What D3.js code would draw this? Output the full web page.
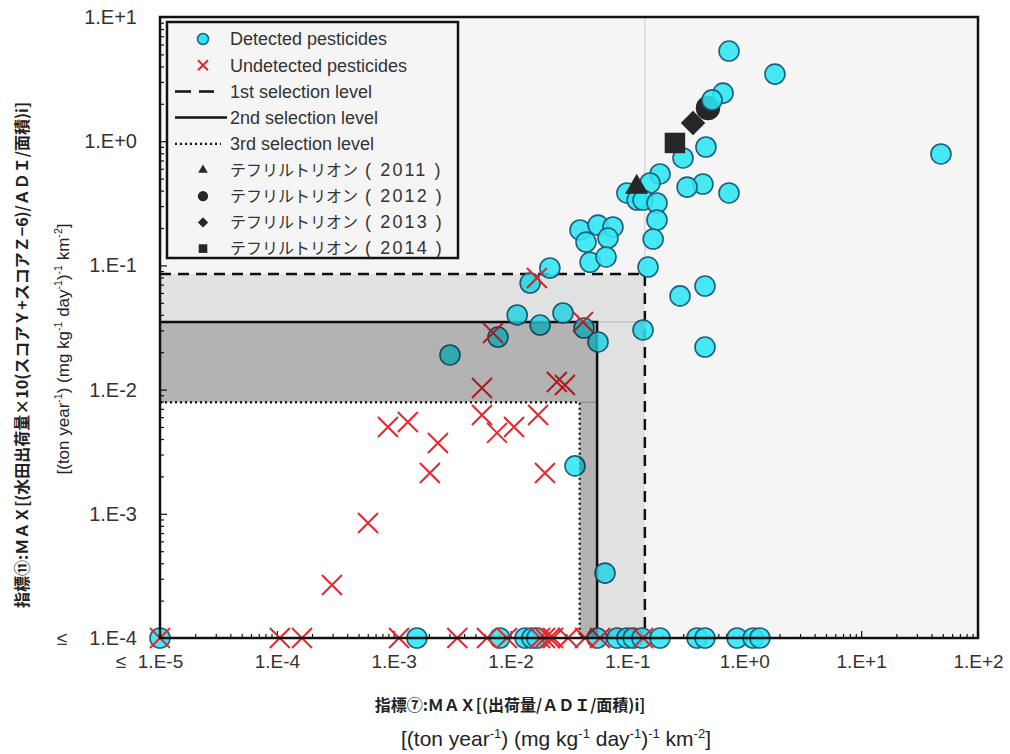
<!DOCTYPE html>
<html>
<head>
<meta charset="utf-8">
<script src="https://cdn.jsdelivr.net/npm/d3@7/dist/d3.min.js"></script>
<style>
  body { margin: 0; background: #fff; }
  text { font-family: "Liberation Sans", Arial, "Noto Sans CJK JP", sans-serif; }
</style>
</head>
<body>
<div id="chart"></div>
<script>
// ---- data ----
// detected pesticides (cyan circles), indicator 7 (x) vs indicator 11 (y)
const detectedX = [0.740, 1.83, 0.658, 0.530, 0.47, 0.299, 0.190, 0.156, 0.443, 0.324, 0.740, 0.099, 0.121, 0.136,
    0.179, 0.179, 0.166, 0.150, 0.0393, 0.0442, 0.056, 0.0752, 0.0682, 0.0479, 0.0656, 0.0217, 0.0147, 0.0114,
    0.0179, 0.0281, 0.0425, 0.056, 0.0078, 0.136, 0.282, 0.461, 0.461, 0.00303, 0.0356, 0.0643, 48.2,
    // points sitting on the lower limit (<= 1.E-4)
    1e-5, 0.00158, 0.0081, 0.0133, 0.0152, 0.0168, 0.055, 0.0815, 0.099, 0.112, 0.133, 0.190, 0.394, 0.461, 0.867, 1.19, 1.36];
const detectedY = [5.32, 3.47, 2.44, 2.15, 0.898, 0.733, 0.545, 0.461, 0.452, 0.427, 0.383, 0.383, 0.336, 0.336,
    0.318, 0.232, 0.163, 0.097, 0.193, 0.154, 0.211, 0.204, 0.166, 0.106, 0.117, 0.0953, 0.0721, 0.0399,
    0.0331, 0.0414, 0.0313, 0.0242, 0.0265, 0.0302, 0.0568, 0.0682, 0.0220, 0.0190, 0.00243, 0.000333, 0.789,
    1e-4, 1e-4, 1e-4, 1e-4, 1e-4, 1e-4, 1e-4, 1e-4, 1e-4, 1e-4, 1e-4, 1e-4, 1e-4, 1e-4, 1e-4, 1e-4, 1e-4];

// undetected pesticides (red crosses)
const undetectedX = [0.0168, 0.00708, 0.0417, 0.00569, 0.0249, 0.0292, 0.000893, 0.00132, 0.00239, 0.00569,
    0.00766, 0.0107, 0.0172, 0.00204, 0.0197, 0.000603, 0.000296,
    1e-5, 0.000106, 0.000164, 0.00111, 0.0035, 0.00628, 0.0093, 0.0179, 0.0197, 0.0217, 0.0231, 0.031, 0.0434, 0.0582, 0.136];
const undetectedY = [0.0792, 0.0286, 0.035, 0.0103, 0.0115, 0.0109, 0.0050, 0.00548, 0.00372, 0.00624,
    0.00448, 0.0050, 0.00624, 0.00213, 0.00213, 0.000843, 0.000267,
    1e-4, 1e-4, 1e-4, 1e-4, 1e-4, 1e-4, 1e-4, 1e-4, 1e-4, 1e-4, 1e-4, 1e-4, 1e-4, 1e-4, 1e-4];

// tefuryltrione by year
const teflYears = ["2011", "2012", "2013", "2014"];
const teflX = [0.12, 0.489, 0.364, 0.255];
const teflY = [0.427, 1.85, 1.40, 0.968];
const teflShapes = ["triangle", "circle", "diamond", "square"];

// selection levels (upper corner of each box)
const levelNames = ["1st selection level", "2nd selection level", "3rd selection level"];
const levelX = [0.141, 0.055, 0.039];
const levelY = [0.0853, 0.035, 0.0079];

// axis ticks
const xTickVals = [1e-5, 1e-4, 1e-3, 1e-2, 1e-1, 1e0, 1e1, 1e2];
const xTickLabels = ["1.E-5", "1.E-4", "1.E-3", "1.E-2", "1.E-1", "1.E+0", "1.E+1", "1.E+2"];
const yTickVals = [1e-4, 1e-3, 1e-2, 1e-1, 1e0, 1e1];
const yTickLabels = ["1.E-4", "1.E-3", "1.E-2", "1.E-1", "1.E+0", "1.E+1"];

// ---- drawing ----
const width = 1010, height = 754;
const mLeft = 160, mRight = 978, mTop = 17, mBottom = 638;

const svg = d3.select("#chart").append("svg")
    .attr("width", width)
    .attr("height", height);

const x = d3.scaleLog().domain([1e-5, 1e2]).range([mLeft, mRight]);
const y = d3.scaleLog().domain([1e-4, 1e1]).range([mBottom, mTop]);

// plot background
svg.append("rect")
    .attr("x", mLeft).attr("y", mTop)
    .attr("width", mRight - mLeft).attr("height", mBottom - mTop)
    .attr("fill", "#f5f5f5");

// innermost (3rd level) box is white
svg.append("rect")
    .attr("x", mLeft).attr("y", y(levelY[2]))
    .attr("width", x(levelX[2]) - mLeft).attr("height", mBottom - y(levelY[2]))
    .attr("fill", "#ffffff");

// faint edges of the shaded areas
svg.append("line")
    .attr("x1", x(levelX[0])).attr("x2", x(levelX[0]))
    .attr("y1", mTop).attr("y2", y(levelY[0]))
    .attr("stroke", "#dadada").attr("stroke-width", 1.5);
svg.append("line")
    .attr("x1", x(levelX[1])).attr("x2", x(levelX[0]))
    .attr("y1", y(levelY[1])).attr("y2", y(levelY[1]))
    .attr("stroke", "#d4d4d4").attr("stroke-width", 1.5);
svg.append("line")
    .attr("x1", x(levelX[2])).attr("x2", x(levelX[1]))
    .attr("y1", y(levelY[2])).attr("y2", y(levelY[2]))
    .attr("stroke", "#c8c8c8").attr("stroke-width", 1.5);

// selection level lines
const levelDash = ["11,7", null, "2,3"];
const levelWidth = [2.5, 2.5, 2.2];
levelX.forEach(function(lx, i) {
    svg.append("path")
        .attr("d", `M${mLeft},${y(levelY[i])}H${x(lx)}V${mBottom}`)
        .attr("fill", "none")
        .attr("stroke", "#111")
        .attr("stroke-width", levelWidth[i])
        .attr("stroke-dasharray", levelDash[i]);
});

// minor tick values
function minorTicks(lo, hi) {
    let out = [];
    for (let d = lo; d < hi; d++) {
        for (let k = 2; k <= 9; k++) out.push(k * Math.pow(10, d));
    }
    return out;
}

// x axis (ticks point inward)
svg.append("g")
    .attr("transform", `translate(0,${mBottom})`)
    .call(d3.axisBottom(x).tickValues(minorTicks(-5, 2)).tickSize(-4).tickFormat(""))
    .call(g => g.select(".domain").remove())
    .selectAll("line").attr("stroke", "#111").attr("stroke-width", 1.2);

const xAxisG = svg.append("g")
    .attr("transform", `translate(0,${mBottom})`)
    .call(d3.axisBottom(x).tickValues(xTickVals).tickSize(-7).tickPadding(17)
        .tickFormat((d, i) => xTickLabels[i]));
xAxisG.select(".domain").remove();
xAxisG.selectAll("line").attr("stroke", "#111").attr("stroke-width", 1.2);
xAxisG.selectAll("text")
    .attr("font-size", 19).attr("fill", "#333")
    .style("font-family", '"Liberation Sans", Arial, sans-serif');

// y axis
svg.append("g")
    .attr("transform", `translate(${mLeft},0)`)
    .call(d3.axisLeft(y).tickValues(minorTicks(-4, 1)).tickSize(-4).tickFormat(""))
    .call(g => g.select(".domain").remove())
    .selectAll("line").attr("stroke", "#111").attr("stroke-width", 1.2);

const yAxisG = svg.append("g")
    .attr("transform", `translate(${mLeft},0)`)
    .call(d3.axisLeft(y).tickValues(yTickVals).tickSize(-7).tickPadding(23)
        .tickFormat((d, i) => yTickLabels[i]));
yAxisG.select(".domain").remove();
yAxisG.selectAll("line").attr("stroke", "#111").attr("stroke-width", 1.2);
yAxisG.selectAll("text")
    .attr("font-size", 20).attr("fill", "#333")
    .style("font-family", '"Liberation Sans", Arial, sans-serif');

// "less or equal" marks at the lower limits
svg.append("text").attr("x", 62).attr("y", y(1e-4)).attr("dy", "0.35em")
    .attr("text-anchor", "middle").attr("font-size", 19).attr("fill", "#333").text("≤");
svg.append("text").attr("x", 121).attr("y", mBottom + 17).attr("dy", "0.71em")
    .attr("text-anchor", "middle").attr("font-size", 19).attr("fill", "#333").text("≤");

// tefuryltrione markers
function shapePath(shape, big) {
    let s = big ? 1 : 0.42;
    if (shape == "triangle") return d3.symbol().type(d3.symbolTriangle).size(230 * s * s)();
    if (shape == "circle") return d3.symbol().type(d3.symbolCircle).size(470 * s * s)();
    if (shape == "diamond") return d3.symbol().type(d3.symbolSquare).size(300 * s * s)();
    return d3.symbol().type(d3.symbolSquare).size(420 * s * s)();
}
function drawTefl(g, filterFn) {
    teflX.forEach(function(d, i) {
        if (!filterFn(teflShapes[i])) return;
        g.append("path")
            .attr("transform", `translate(${x(d)},${y(teflY[i])})` + (teflShapes[i] == "diamond" ? " rotate(45)" : ""))
            .attr("d", shapePath(teflShapes[i], true))
            .attr("fill", "#262626");
    });
}

// the 2012 circle sits behind the cyan markers
drawTefl(svg.append("g"), sh => sh == "circle");

// detected pesticides
svg.append("g").selectAll("circle")
    .data(detectedX)
    .enter().append("circle")
    .attr("cx", d => x(d))
    .attr("cy", (d, i) => y(detectedY[i]))
    .attr("r", 10)
    .attr("fill", "#2ee6f2")
    .attr("fill-opacity", 0.88)
    .attr("stroke", "#1d5f7e")
    .attr("stroke-width", 1.6);

// undetected pesticides
const crossPath = "M-10,-10L10,10M-10,10L10,-10";
svg.append("g").selectAll("path")
    .data(undetectedX)
    .enter().append("path")
    .attr("transform", (d, i) => `translate(${x(d)},${y(undetectedY[i])})`)
    .attr("d", crossPath)
    .attr("fill", "none")
    .attr("stroke", "#e8262e")
    .attr("stroke-width", 2);

drawTefl(svg.append("g"), sh => sh != "circle");

// shaded bands of the 1st and 2nd levels lie over the markers
const bandOpacity = [0.08, 0.265];
[0, 1].forEach(function(i) {
    const xo = x(levelX[i]), yo = y(levelY[i]);
    const xi = x(levelX[i + 1]), yi = y(levelY[i + 1]);
    svg.append("path")
        .attr("d", `M${mLeft},${yo}H${xo}V${mBottom}H${xi}V${yi}H${mLeft}Z`)
        .attr("fill", "#000")
        .attr("fill-opacity", bandOpacity[i]);
});

// plot frame
svg.append("rect")
    .attr("x", mLeft).attr("y", mTop)
    .attr("width", mRight - mLeft).attr("height", mBottom - mTop)
    .attr("fill", "none").attr("stroke", "#111").attr("stroke-width", 2.5);

// ---- legend ----
const lg = svg.append("g");
lg.append("rect")
    .attr("x", 167).attr("y", 22).attr("width", 291).attr("height", 236)
    .attr("fill", "#f5f5f5").attr("stroke", "#111").attr("stroke-width", 2.5);

const rowY = d => 39 + d * 26.2;
const textX = 230, symX = 203;

const legendTexts = ["Detected pesticides", "Undetected pesticides"].concat(levelNames);

lg.selectAll("text.item")
    .data(legendTexts)
    .enter().append("text")
    .attr("x", textX)
    .attr("y", (d, i) => rowY(i))
    .attr("dy", "0.35em")
    .attr("font-size", 18)
    .attr("fill", "#333")
    .text(d => d);

teflYears.forEach(function(yr, i) {
    const t = lg.append("text")
        .attr("x", textX)
        .attr("y", rowY(5 + i))
        .attr("dy", "0.35em")
        .attr("fill", "#333");
    t.append("tspan").attr("font-size", 16)
        .style("font-family", '"Noto Sans CJK JP", sans-serif')
        .text("テフリルトリオン");
    t.append("tspan").attr("font-size", 18).attr("letter-spacing", 2.1)
        .text(" ( " + yr + " )");
});

lg.append("circle").attr("cx", symX).attr("cy", rowY(0)).attr("r", 5.5)
    .attr("fill", "#2ee6f2").attr("stroke", "#1d5f7e").attr("stroke-width", 1.5);
lg.append("path").attr("transform", `translate(${symX},${rowY(1)}) scale(0.5)`)
    .attr("d", crossPath).attr("fill", "none").attr("stroke", "#e8262e").attr("stroke-width", 4);
const legendLineEnd = [214, 227, 221];
levelNames.forEach(function(n, i) {
    lg.append("line")
        .attr("x1", 175).attr("x2", legendLineEnd[i])
        .attr("y1", rowY(2 + i)).attr("y2", rowY(2 + i))
        .attr("stroke", "#111").attr("stroke-width", levelWidth[i])
        .attr("stroke-dasharray", i == 0 ? "16,8" : levelDash[i]);
});
teflShapes.forEach(function(sh, i) {
    lg.append("path")
        .attr("transform", `translate(${symX},${rowY(5 + i)})` + (sh == "diamond" ? " rotate(45)" : ""))
        .attr("d", shapePath(sh, false))
        .attr("fill", "#262626");
});

// ---- axis titles ----
function addUnits(t, fs) {
    const parts = [["[(ton year", 0], ["-1", 1], [") (mg kg", 0], ["-1", 1], [" day", 0], ["-1", 1],
        [")", 0], ["-1", 1], [" km", 0], ["-2", 1], ["]", 0]];
    let prevSup = 0;
    parts.forEach(function(p) {
        const sp = t.append("tspan").text(p[0]);
        const shift = (p[1] - prevSup) * -0.4 * fs;
        if (shift != 0) sp.attr("dy", shift);
        if (p[1]) sp.attr("font-size", fs * 0.62);
        prevSup = p[1];
    });
}

svg.append("text")
    .attr("x", 510).attr("y", 711)
    .attr("text-anchor", "middle")
    .attr("font-size", 16).attr("font-weight", "bold").attr("fill", "#222")
    .style("font-family", '"Noto Sans CJK JP", sans-serif')
    .text("指標⑦:ＭＡＸ[(出荷量/ＡＤＩ/面積)i]");

const xUnit = svg.append("text")
    .attr("x", 556).attr("y", 746)
    .attr("text-anchor", "middle")
    .attr("font-size", 21).attr("fill", "#222");
addUnits(xUnit, 21);

svg.append("text")
    .attr("transform", "translate(28,355) rotate(-90)")
    .attr("text-anchor", "middle")
    .attr("font-size", 16).attr("font-weight", "bold").attr("fill", "#222")
    .style("font-family", '"Noto Sans CJK JP", sans-serif')
    .text("指標⑪:ＭＡＸ[(水田出荷量×10(スコアＹ+スコアＺ−6)/ＡＤＩ/面積)i]");

const yUnit = svg.append("text")
    .attr("transform", "translate(69,349) rotate(-90)")
    .attr("text-anchor", "middle")
    .attr("font-size", 17).attr("fill", "#222");
addUnits(yUnit, 17);
</script>
</body>
</html>
